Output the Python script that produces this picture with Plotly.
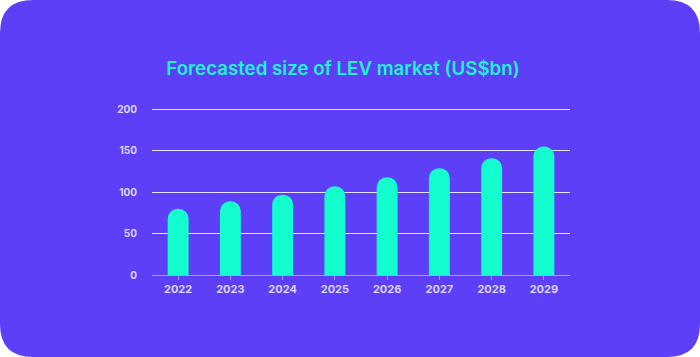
import plotly.graph_objects as go

years = ["2022", "2023", "2024", "2025", "2026", "2027", "2028", "2029"]
market_size = [80, 89, 97, 107, 118, 129, 141, 155]
y_ticks = [0, 50, 100, 150, 200]

W, H = 700, 357
L, R, T, B = 152, 130, 106, 82
pw, ph = W - L - R, H - T - B

def px(x):
    return (x - L) / pw

def py(y):
    return (H - B - y) / ph

# rounded card background in pixel coords -> paper
r = 33
x0, x1, y0, y1 = 0, W, 0, H
path = (
    f"M {px(x0 + r)},{py(y0)} L {px(x1 - r)},{py(y0)} "
    f"Q {px(x1)},{py(y0)} {px(x1)},{py(y0 + r)} "
    f"L {px(x1)},{py(y1 - r)} Q {px(x1)},{py(y1)} {px(x1 - r)},{py(y1)} "
    f"L {px(x0 + r)},{py(y1)} Q {px(x0)},{py(y1)} {px(x0)},{py(y1 - r)} "
    f"L {px(x0)},{py(y0 + r)} Q {px(x0)},{py(y0)} {px(x0 + r)},{py(y0)} Z"
)

fig = go.Figure(
    go.Bar(
        x=years,
        y=market_size,
        marker=dict(color="#14FDCE", cornerradius=10, line=dict(width=0)),
        width=0.4,
        hoverinfo="x+y",
    )
)

fig.update_layout(
    width=W,
    height=H,
    margin=dict(l=L, r=R, t=T, b=B, pad=0),
    paper_bgcolor="white",
    plot_bgcolor="rgba(0,0,0,0)",
    showlegend=False,
    font=dict(family="Inter, Roboto, sans-serif"),
    shapes=[
        dict(type="path", path=path, xref="paper", yref="paper",
             fillcolor="#5E3FF8", line=dict(width=0), layer="below")
    ],
    title=dict(
        text="Forecasted size of LEV market (US$bn)",
        x=343 / W, xref="container", xanchor="center",
        y=1 - 68 / H, yref="container", yanchor="middle",
        font=dict(size=18.7, color="#1DF3CF", family="Inter, sans-serif", weight=600),
    ),
    xaxis=dict(
        type="category",
        showgrid=False,
        showline=True,
        linecolor="#A99CF6",
        linewidth=1,
        ticks="outside",
        ticklen=4,
        tickcolor="#A99CF6",
        tickfont=dict(size=11, color="#DCD5FF", weight="bold"),
        zeroline=False,
    ),
    yaxis=dict(
        range=[0, 204],
        tickvals=y_ticks,
        showgrid=True,
        gridcolor="#E6E1FF",
        gridwidth=1,
        zeroline=False,
        showline=False,
        ticks="",
        ticklabelstandoff=14,
        tickfont=dict(size=10, color="#DCD5FF", weight="bold"),
    ),
)

fig.write_html(
    "out.html",
    config={"displayModeBar": False},
    post_script="document.body.style.margin='0';document.body.style.overflow='hidden';",
)
